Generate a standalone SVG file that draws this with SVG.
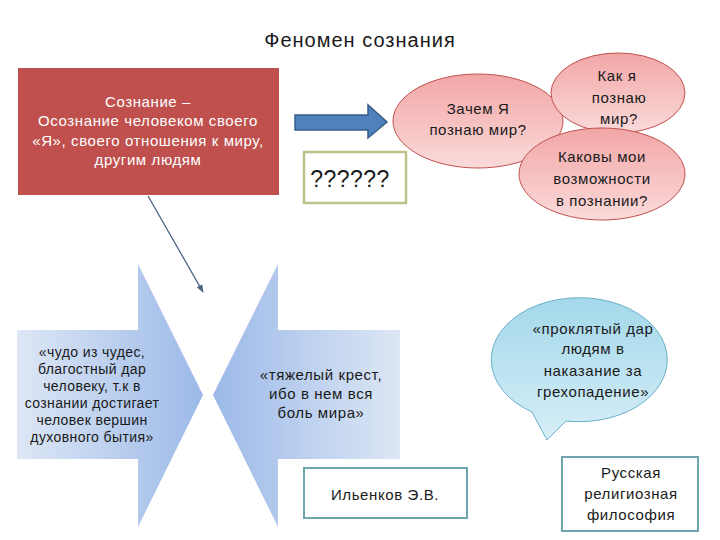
<svg xmlns="http://www.w3.org/2000/svg" width="720" height="540" viewBox="0 0 720 540">
<defs>
<style>
text{font-family:"Liberation Sans","DejaVu Sans",sans-serif;text-anchor:middle;fill:#1a1a1a}
.t{font-size:15px;letter-spacing:0.6px}
.w{fill:#ffffff}
.s{font-size:14px;letter-spacing:0.4px}
</style>
<linearGradient id="pink" x1="0" y1="0" x2="0" y2="1">
<stop offset="0" stop-color="#F2A6A6"/>
<stop offset="1" stop-color="#FBDADA"/>
</linearGradient>
<linearGradient id="blueL" x1="0" y1="0" x2="1" y2="0">
<stop offset="0" stop-color="#DDE7F5"/>
<stop offset="1" stop-color="#9CB9E8"/>
</linearGradient>
<linearGradient id="blueR" x1="1" y1="0" x2="0" y2="0">
<stop offset="0" stop-color="#DDE7F5"/>
<stop offset="1" stop-color="#9CB9E8"/>
</linearGradient>
<linearGradient id="cyan" x1="0" y1="0" x2="0" y2="1">
<stop offset="0" stop-color="#A3D8EA"/>
<stop offset="1" stop-color="#D6EEF7"/>
</linearGradient>
<marker id="ah" viewBox="0 0 10 10" refX="9" refY="5" markerWidth="6" markerHeight="6" orient="auto">
<path d="M0,1 L10,5 L0,9 z" fill="#4A6283"/>
</marker>
</defs>
<rect width="720" height="540" fill="#ffffff"/>
<text x="360" y="47" style="font-size:20px;letter-spacing:1px">Феномен сознания</text>

<g id="consciousness">
<rect x="18" y="68" width="261" height="127" fill="#C0504D"/>
<text class="t w" x="148" y="107">Сознание –</text>
<text class="t w" x="148" y="126">Осознание человеком своего</text>
<text class="t w" x="148" y="146">«Я», своего отношения к миру,</text>
<text class="t w" x="148" y="165">другим людям</text>
</g>

<g id="bigarrow">
<path d="M295,115 L368,115 L368,105 L387,122 L368,138 L368,130 L295,130 z" fill="#4F81BD" stroke="#385D8A" stroke-width="1.5"/>
</g>

<g id="question">
<rect x="304" y="152" width="102" height="51" fill="#ffffff" stroke="#BFC18A" stroke-width="2.5"/>
<text x="350" y="187" style="font-size:23px;letter-spacing:0.5px">??????</text>
</g>

<g id="why">
<ellipse cx="478" cy="121" rx="85" ry="47" fill="url(#pink)" stroke="#C0504D" stroke-width="1"/>
<text class="t" x="478" y="114">Зачем Я</text>
<text class="t" x="478" y="135">познаю мир?</text>
</g>

<g id="how">
<ellipse cx="618" cy="93" rx="67" ry="40" fill="url(#pink)" stroke="#C0504D" stroke-width="1"/>
<text class="t" x="617" y="81">Как я</text>
<text class="t" x="619" y="103">познаю</text>
<text class="t" x="619" y="124">мир?</text>
</g>

<g id="abilities">
<ellipse cx="602" cy="174" rx="83" ry="46" fill="url(#pink)" stroke="#C0504D" stroke-width="1"/>
<text class="t" x="602" y="162">Каковы мои</text>
<text class="t" x="602" y="184">возможности</text>
<text class="t" x="602" y="206">в познании?</text>
</g>

<g id="connectors">
<line x1="148" y1="196" x2="203" y2="292" stroke="#4A6283" stroke-width="1.3" marker-end="url(#ah)"/>
</g>

<g id="miracle">
<path d="M17,330 L138,330 L138,264 L203,395 L138,527 L138,459 L17,459 z" fill="url(#blueL)"/>
<text class="s" x="92" y="357">«чудо из чудес,</text>
<text class="s" x="92" y="374">благостный дар</text>
<text class="s" x="92" y="391">человеку, т.к в</text>
<text class="s" x="92" y="408">сознании достигает</text>
<text class="s" x="92" y="425">человек вершин</text>
<text class="s" x="92" y="442">духовного бытия»</text>
</g>

<g id="cross">
<path d="M400,330 L278,330 L278,264 L213,395 L278,527 L278,459 L400,459 z" fill="url(#blueR)"/>
<text class="t" x="321" y="380">«тяжелый крест,</text>
<text class="t" x="321" y="399">ибо в нем вся</text>
<text class="t" x="321" y="418">боль мира»</text>
</g>

<g id="curse">
<path d="M532,412 A88,62 0 1 1 566,421 L547,440 z" fill="url(#cyan)" stroke="#6AB0C8" stroke-width="1"/>
<text class="t" x="593" y="334">«проклятый дар</text>
<text class="t" x="593" y="354">людям в</text>
<text class="t" x="593" y="376">наказание за</text>
<text class="t" x="593" y="397">грехопадение»</text>
</g>

<g id="ilenkov">
<rect x="304" y="468" width="163" height="50" fill="#ffffff" stroke="#6FA5AE" stroke-width="2"/>
<text class="t" x="385" y="500">Ильенков Э.В.</text>
</g>

<g id="russian">
<rect x="562" y="457" width="136" height="74" fill="#ffffff" stroke="#6FA5AE" stroke-width="2"/>
<text class="t" x="631" y="478">Русская</text>
<text class="t" x="631" y="499">религиозная</text>
<text class="t" x="631" y="520">философия</text>
</g>
</svg>
